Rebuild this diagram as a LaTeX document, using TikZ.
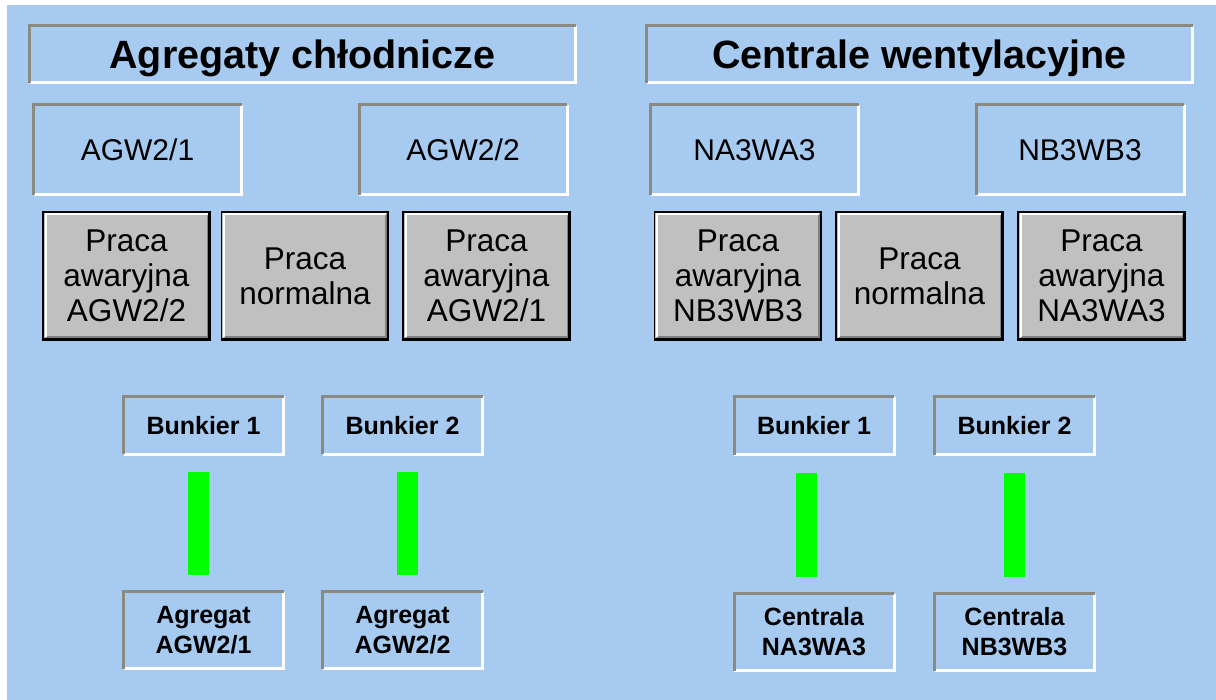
\documentclass[tikz,border=0pt]{standalone}
\usepackage{fontspec}
\setmainfont{Liberation Sans}
\definecolor{bg}{HTML}{A6CAF0}
\definecolor{btn}{HTML}{C0C0C0}
\definecolor{dgray}{HTML}{8A8A80}
\definecolor{led}{HTML}{00FF00}
\tikzset{
  panel/.style={rectangle, fill=bg, inner sep=0pt, outer sep=0pt, align=center, text=black},
  titlebox/.style={panel, minimum width=549pt, minimum height=60pt, text height=28pt, text depth=0pt, font=\fontsize{39.5}{44}\selectfont\bfseries},
  unitbox/.style={panel, minimum width=211pt, minimum height=93pt, font=\fontsize{30}{34}\selectfont},
  smallbox/.style={panel, minimum width=163pt, minimum height=61pt, font=\fontsize{25}{30}\selectfont\bfseries},
  lowbox/.style={panel, minimum width=163pt, minimum height=80pt, font=\fontsize{25}{30}\selectfont\bfseries},
  button/.style={rectangle, fill=btn, inner sep=0pt, outer sep=0pt, align=center, text=black, minimum width=167pt, minimum height=128pt, font=\fontsize{31.5}{35}\selectfont},
  ledbar/.style={rectangle, fill=led, inner sep=0pt, outer sep=0pt, minimum width=21pt, minimum height=103pt}
}
\newcommand\sunkframe[1]{%
  \draw[white,line width=3pt] ([shift={(1.5pt,1.5pt)}]#1.south west) -- ([shift={(-1.5pt,1.5pt)}]#1.south east) -- ([shift={(-1.5pt,-1.5pt)}]#1.north east);
  \draw[dgray,line width=3pt] ([shift={(1.5pt,1.5pt)}]#1.south west) -- ([shift={(1.5pt,-1.5pt)}]#1.north west) -- ([shift={(-1.5pt,-1.5pt)}]#1.north east);}
\newcommand\raisedframe[1]{%
  \draw[gray,line width=2pt] ([shift={(2.5pt,2.5pt)}]#1.south west) -- ([shift={(-2.5pt,2.5pt)}]#1.south east) -- ([shift={(-2.5pt,-2.5pt)}]#1.north east);
  \draw[white,line width=2pt] ([shift={(2.5pt,2.5pt)}]#1.south west) -- ([shift={(2.5pt,-2.5pt)}]#1.north west) -- ([shift={(-2.5pt,-2.5pt)}]#1.north east);
  \draw[black,line width=1.2pt] (#1.south west) rectangle (#1.north east);
  \draw[black,line width=2pt] ([shift={(0pt,1pt)}]#1.south west) -- ([shift={(-1pt,1pt)}]#1.south east) -- ([shift={(-1pt,0pt)}]#1.north east);}
\begin{document}
\begin{tikzpicture}[x=1pt,y=-1pt]
\useasboundingbox (0,0) rectangle (1216,700);
\fill[white] (0,0) rectangle (1216,700);
\fill[bg] (7,5) rectangle (1216,700);
% titles
\node[titlebox] (t1) at (302.5,54.5) {Agregaty chłodnicze};
\node[titlebox] (t2) at (919.5,54.5) {Centrale wentylacyjne};
\sunkframe{t1}\sunkframe{t2}
% unit boxes
\node[unitbox] (u1) at (137.5,150) {AGW2/1};
\node[unitbox] (u2) at (463,150) {AGW2/2};
\node[unitbox] (u3) at (754.5,150) {NA3WA3};
\node[unitbox] (u4) at (1080,150) {NB3WB3};
\sunkframe{u1}\sunkframe{u2}\sunkframe{u3}\sunkframe{u4}
% buttons
\node[button] (b1) at (126.5,276) {Praca\\awaryjna\\AGW2/2};
\node[button] (b2) at (305,276) {Praca\\normalna};
\node[button] (b3) at (486.5,276) {Praca\\awaryjna\\AGW2/1};
\node[button] (b4) at (738,276) {Praca\\awaryjna\\NB3WB3};
\node[button] (b5) at (919.5,276) {Praca\\normalna};
\node[button] (b6) at (1101.5,276) {Praca\\awaryjna\\NA3WA3};
\raisedframe{b1}\raisedframe{b2}\raisedframe{b3}\raisedframe{b4}\raisedframe{b5}\raisedframe{b6}
% bunkers
\node[smallbox] (k1) at (203.5,425.5) {Bunkier 1};
\node[smallbox] (k2) at (402.5,425.5) {Bunkier 2};
\node[smallbox] (k3) at (814,426) {Bunkier 1};
\node[smallbox] (k4) at (1014.5,426) {Bunkier 2};
\sunkframe{k1}\sunkframe{k2}\sunkframe{k3}\sunkframe{k4}
% green bars
\node[ledbar] (g1) at (198.5,523.5) {};
\node[ledbar] (g2) at (407.5,523.5) {};
\node[ledbar] (g3) at (806.5,525) {};
\node[ledbar] (g4) at (1014.5,525) {};
% lower boxes
\node[lowbox] (a1) at (203.5,630) {Agregat\\AGW2/1};
\node[lowbox] (a2) at (402.5,630) {Agregat\\AGW2/2};
\node[lowbox] (a3) at (814,632) {Centrala\\NA3WA3};
\node[lowbox] (a4) at (1014.5,632) {Centrala\\NB3WB3};
\sunkframe{a1}\sunkframe{a2}\sunkframe{a3}\sunkframe{a4}
\end{tikzpicture}
\end{document}
